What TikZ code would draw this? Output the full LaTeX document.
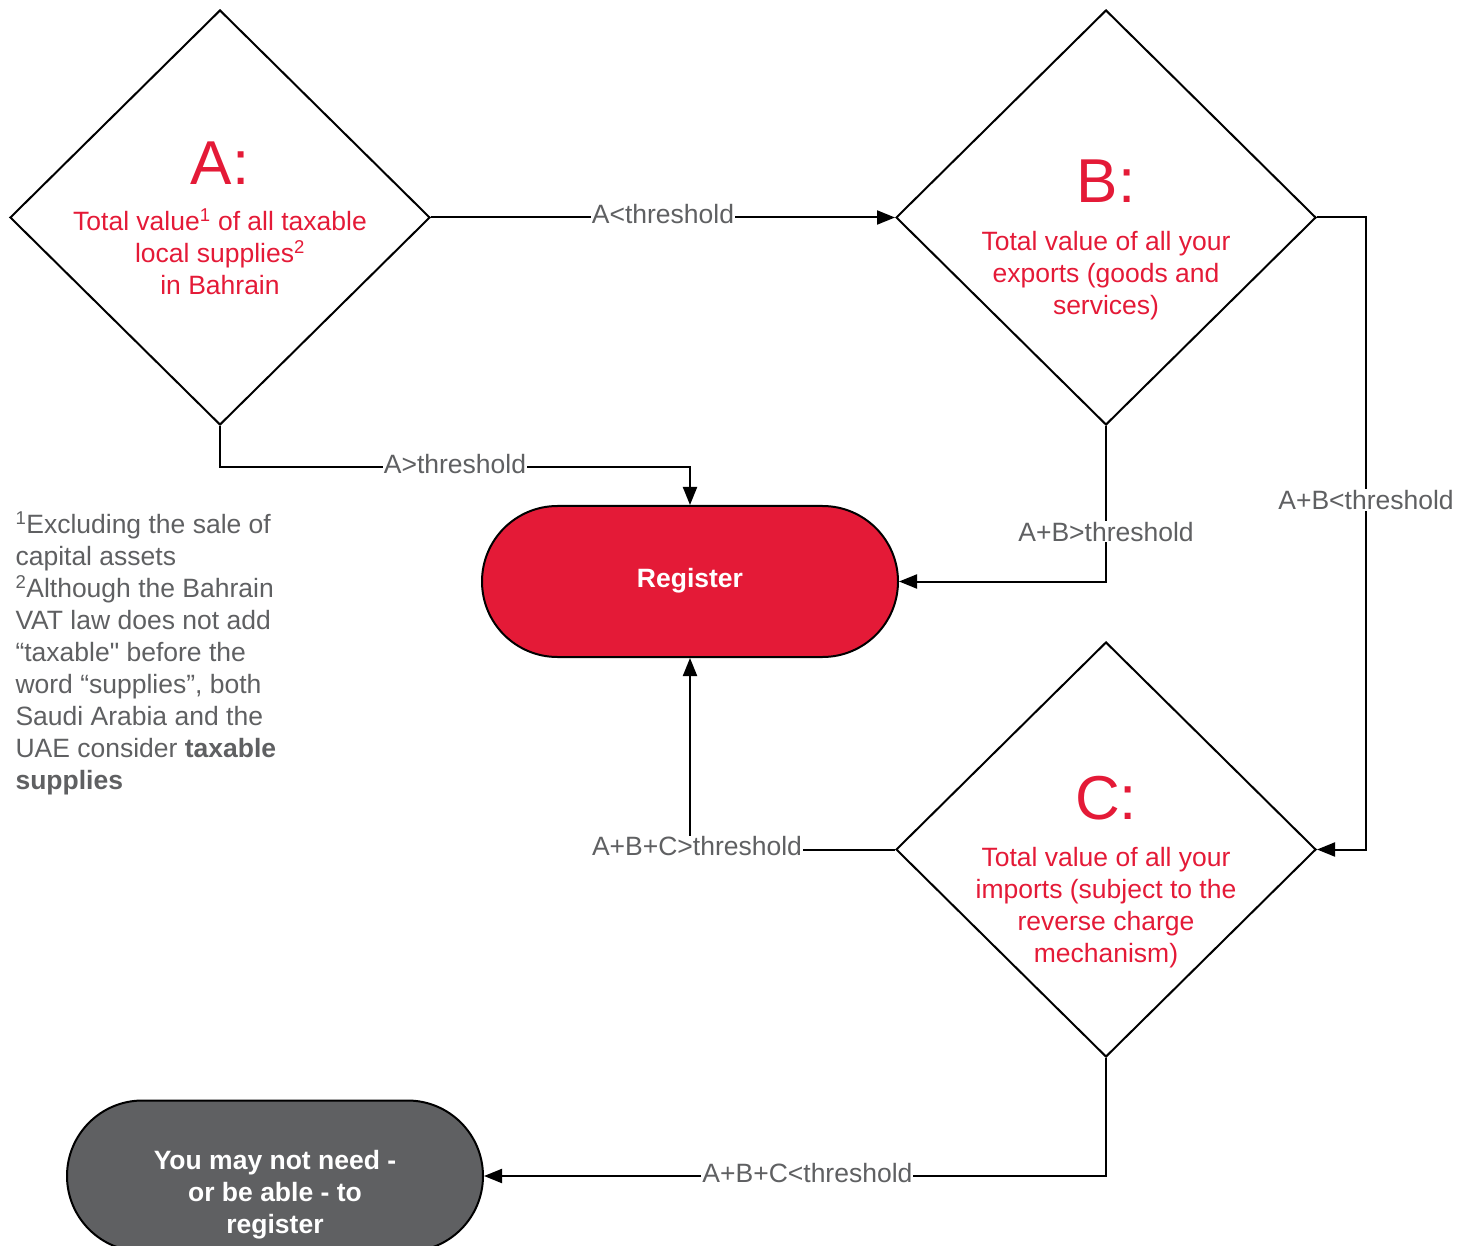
\documentclass[tikz,border=0pt]{standalone}
\usepackage{fontspec}
\setmainfont{Liberation Sans}
\usetikzlibrary{shapes.geometric, shapes.misc, arrows.meta}
\definecolor{myred}{RGB}{228,26,55}
\definecolor{mygray}{RGB}{95,96,98}
\tikzset{
    decision/.style={diamond, draw, line width=2pt, minimum width=420pt, minimum height=415pt, inner sep=0pt},
    terminal/.style={rounded rectangle, draw, line width=2pt, minimum width=416pt, minimum height=151pt, inner sep=0pt},
    bigletter/.style={text=myred, font=\fontsize{62}{70}\selectfont},
    decisiontext/.style={text=myred, align=center, font=\fontsize{26.5}{32}\selectfont},
    termtext/.style={text=white, align=center, font=\fontsize{26.5}{32}\selectfont\bfseries},
    edgelabel/.style={fill=white, inner sep=1pt, text=mygray, font=\fontsize{26.5}{32}\selectfont},
    flow/.style={line width=2pt, -{Triangle[length=18pt, width=14pt]}}
}

\begin{document}
\begin{tikzpicture}[x=1pt, y=-1pt]
    \useasboundingbox (0, 0) rectangle (1468, 1246);
    % Decisions
    \node[decision] (A) at (220, 217.5) {};
    \node[bigletter] at (220, 163) {A:};
    \node[decisiontext] at (220, 252) {Total value\textsuperscript{1} of all taxable\\ local supplies\textsuperscript{2}\\ in Bahrain};
    \node[decision] (B) at (1106, 217.5) {};
    \node[bigletter] at (1106, 181) {B:};
    \node[decisiontext] at (1106, 275.5) {Total value of all your\\ exports (goods and\\ services)};
    \node[decision] (C) at (1106, 849.5) {};
    \node[bigletter] at (1106, 798) {C:};
    \node[decisiontext] at (1106, 908) {Total value of all your\\ imports (subject to the\\ reverse charge\\ mechanism)};
    % Outcomes
    \node[terminal, fill=myred] (Reg) at (690, 581.5) {};
    \node[termtext] at ([yshift=1pt]Reg.center) {Register};
    \node[terminal, fill=mygray] (NoReg) at (275, 1176) {};
    \node[termtext] at ([yshift=-19pt]NoReg.center) {You may not need -\\ or be able - to\\ register};
    % Footnotes
    \node[anchor=west, align=left, text=mygray, font=\fontsize{26.5}{32}\selectfont] (Notes) at (12, 653)
        {\textsuperscript{1}Excluding the sale of\\ capital assets\\ \textsuperscript{2}Although the Bahrain\\ VAT law does not add\\ “taxable\textquotedbl{} before the\\ word “supplies”, both\\ Saudi Arabia and the\\ UAE consider \textbf{taxable}\\ \textbf{supplies}};
    % Connectors
    \draw[flow] (A.east) -- node[edgelabel, yshift=3pt] {A<threshold} (B.west);
    \draw[flow] (A.south) -- ++(0, 41) -| node[edgelabel, pos=0.25, yshift=3pt] {A>threshold} (Reg.north);
    \draw[flow] (B.south) |- node[edgelabel, pos=0.34] {A+B>threshold} (Reg.east);
    \draw[flow] (B.east) -- ++(49, 0) |- node[edgelabel, pos=0.2235] {A+B<threshold} (C.east);
    \draw[flow] (C.west) -| node[edgelabel, pos=0.5, xshift=7pt, yshift=3pt] {A+B+C>threshold} (Reg.south);
    \draw[flow] (C.south) |- node[edgelabel, pos=0.74, yshift=3pt] {A+B+C<threshold} (NoReg.east);
\end{tikzpicture}
\end{document}
